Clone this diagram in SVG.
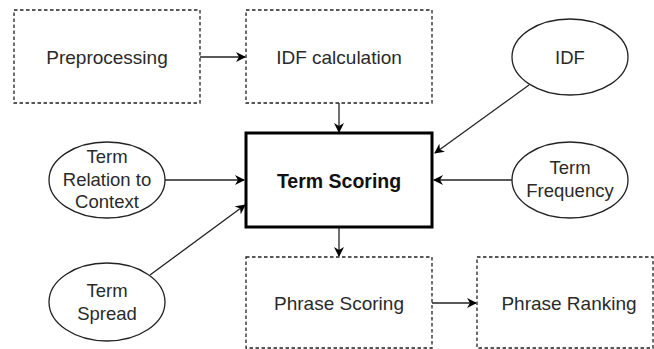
<svg xmlns="http://www.w3.org/2000/svg" width="654" height="349" viewBox="0 0 654 349">
<defs>
<marker id="ah" viewBox="0 0 10 10" refX="9" refY="5" markerWidth="10" markerHeight="10" markerUnits="userSpaceOnUse" orient="auto">
<path d="M0,0 L10,5 L0,10 L3,5 Z" fill="#000"/>
</marker>
<style>
.box{fill:#fff;stroke:#222;stroke-width:1.3;stroke-dasharray:3.5,2.5}
.ell{fill:#fff;stroke:#222;stroke-width:1.3}
.t{font-family:"Liberation Sans",Arial,sans-serif;font-size:19px;fill:#2a2a2a;text-anchor:middle}
.te{font-family:"Liberation Sans",Arial,sans-serif;font-size:18.5px;fill:#2a2a2a;text-anchor:middle}
.c{fill:none;stroke:#222;stroke-width:1.3;marker-end:url(#ah)}
</style>
</defs>
<rect width="654" height="349" fill="#fff"/>
<g id="connectors">
<line class="c" x1="200" y1="57" x2="245" y2="57"/>
<line class="c" x1="339" y1="103" x2="339" y2="132"/>
<line class="c" x1="529" y1="85" x2="435" y2="153"/>
<line class="c" x1="513" y1="180" x2="434" y2="180"/>
<line class="c" x1="165" y1="180" x2="244" y2="180"/>
<line class="c" x1="150" y1="275" x2="245" y2="205"/>
<line class="c" x1="339" y1="228" x2="339" y2="256"/>
<line class="c" x1="432" y1="303" x2="476" y2="303"/>
</g>
<g id="preprocessing">
<rect class="box" x="14" y="10" width="186" height="93"/>
<text class="t" x="107" y="64">Preprocessing</text>
</g>
<g id="idf-calculation">
<rect class="box" x="246" y="10" width="186" height="93"/>
<text class="t" x="339" y="64">IDF calculation</text>
</g>
<g id="idf">
<ellipse class="ell" cx="570" cy="57" rx="58" ry="38"/>
<text class="te" x="570" y="64">IDF</text>
</g>
<g id="term-scoring">
<rect x="246" y="133" width="186" height="94" fill="#fff" stroke="#000" stroke-width="3"/>
<text class="t" x="339" y="188" style="font-weight:bold;fill:#111;font-size:19.5px">Term Scoring</text>
</g>
<g id="term-relation">
<ellipse class="ell" cx="107" cy="180" rx="58" ry="38"/>
<text class="te" x="107" y="163">Term</text>
<text class="te" x="107" y="186">Relation to</text>
<text class="te" x="107" y="208">Context</text>
</g>
<g id="term-frequency">
<ellipse class="ell" cx="570" cy="180" rx="58" ry="38"/>
<text class="te" x="570" y="174">Term</text>
<text class="te" x="570" y="197">Frequency</text>
</g>
<g id="term-spread">
<ellipse class="ell" cx="107" cy="302" rx="58" ry="39"/>
<text class="te" x="107" y="297">Term</text>
<text class="te" x="107" y="320">Spread</text>
</g>
<g id="phrase-scoring">
<rect class="box" x="246" y="257" width="186" height="91"/>
<text class="t" x="339" y="310">Phrase Scoring</text>
</g>
<g id="phrase-ranking">
<rect class="box" x="477" y="257" width="176" height="91"/>
<text class="t" x="569" y="310">Phrase Ranking</text>
</g>
</svg>
